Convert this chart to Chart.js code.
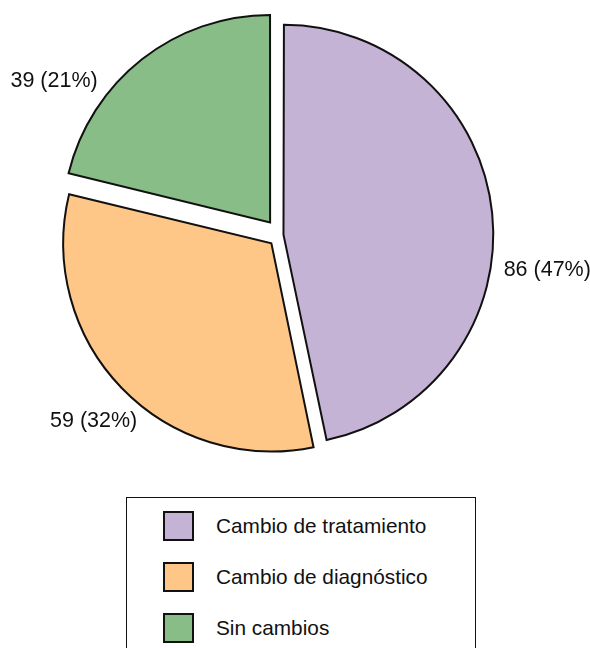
<!DOCTYPE html>
<html>
<head>
<meta charset="utf-8">
<script src="https://cdn.jsdelivr.net/npm/chart.js@4/dist/chart.umd.min.js"></script>
<style>
  html, body { margin: 0; padding: 0; background: #fff; }
  body { width: 590px; height: 648px; position: relative; overflow: hidden; font-family: "Liberation Sans", Arial, sans-serif; }
  #wrap { position: absolute; left: 0; top: 0; width: 590px; height: 470px; }
  #legend { position: absolute; left: 126px; top: 497px; width: 350px; height: 170px; border: 1.5px solid #111; box-sizing: border-box; padding-top: 2px; }
  .row { height: 51px; display: flex; align-items: center; }
  .sw { width: 27px; height: 26px; border: 2px solid #111; margin-left: 36px; }
  .txt { margin-left: 22px; font-size: 20.8px; color: #111; }
</style>
</head>
<body>
<div id="wrap"><canvas id="chart"></canvas></div>
<div id="legend"></div>
<script>
const categories = ['Cambio de tratamiento', 'Cambio de diagnóstico', 'Sin cambios'];
const counts = [86, 59, 39];
const sliceColors = ['#C5B3D6', '#FEC788', '#88BD87'];

const total = counts.reduce((a, b) => a + b, 0);

// labels outside each slice: "n (p%)"
const sliceLabels = {
    id: 'sliceLabels',
    afterDatasetsDraw(chart, args, opts) {
        const ctx = chart.ctx;
        const meta = chart.getDatasetMeta(0);
        ctx.save();
        ctx.font = '21.5px "Liberation Sans", Arial, sans-serif';
        ctx.fillStyle = '#111';
        ctx.textBaseline = 'middle';
        meta.data.forEach((arc, i) => {
            const off = (arc.options.offset || 0) / 4;
            const mid = (arc.startAngle + arc.endAngle) / 2;
            const ax = arc.x + Math.cos(mid) * off;
            const ay = arc.y + Math.sin(mid) * off;
            const a = mid + (opts.angleShift[i] || 0) * Math.PI / 180;
            const d = arc.outerRadius + opts.gap;
            const v = counts[i];
            ctx.textAlign = Math.cos(a) >= 0 ? 'left' : 'right';
            ctx.fillText(v + ' (' + Math.round(v / total * 100) + '%)', ax + Math.cos(a) * d, ay + Math.sin(a) * d);
        });
        ctx.restore();
    }
};

new Chart(document.getElementById('chart'), {
    type: 'pie',
    data: {
        labels: categories,
        datasets: [{
            data: counts,
            backgroundColor: sliceColors,
            borderColor: '#111',
            borderWidth: 2,
            borderJoinStyle: 'miter',
            offset: [14, 48, 64]
        }]
    },
    options: {
        responsive: true,
        maintainAspectRatio: false,
        animation: false,
        events: [],
        radius: 207,
        layout: { padding: { left: 0, right: 30, top: 0, bottom: 0 } },
        plugins: {
            legend: { display: false },
            tooltip: { enabled: false },
            sliceLabels: { gap: 16, angleShift: [15, -9, -12.5] }
        }
    },
    plugins: [sliceLabels]
});

// legend box below the pie
document.getElementById('legend').innerHTML = categories.map((c, i) =>
    `<div class="row"><div class="sw" style="background:${sliceColors[i]}"></div><span class="txt">${c}</span></div>`
).join('');
</script>
</body>
</html>
